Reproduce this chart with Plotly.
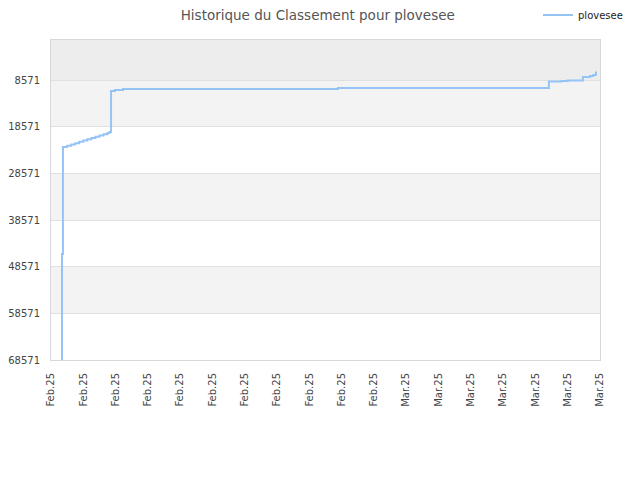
import plotly.graph_objects as go

# --- Data ---
dates = [
    "2025-02-08 15:36", "2025-02-08 16:20", "2025-02-08 17:45",
    "2025-02-09 00:00", "2025-02-09 06:00", "2025-02-09 12:00",
    "2025-02-09 18:00", "2025-02-10 00:00", "2025-02-10 06:00",
    "2025-02-10 12:00", "2025-02-10 18:00", "2025-02-11 00:00",
    "2025-02-11 06:00", "2025-02-11 12:00", "2025-02-11 15:00",
    "2025-02-11 17:15", "2025-02-11 23:00", "2025-02-12 11:00",
    "2025-02-25 18:30", "2025-03-10 20:00", "2025-03-11 15:00",
    "2025-03-12 00:00", "2025-03-12 22:30", "2025-03-13 09:00",
    "2025-03-13 14:00", "2025-03-13 18:00",
]
ranks = [
    68571, 45860, 22930,
    22650, 22380, 22100,
    21830, 21560, 21290,
    21020, 20750, 20480,
    20210, 19940, 19700,
    10930, 10710, 10500,
    10290, 8890, 8785,
    8680, 7930, 7710,
    7500, 6750,
]

y_ticks = [8571, 18571, 28571, 38571, 48571, 58571, 68571]
y_labels = [str(v) for v in y_ticks]
x_ticks = ["2025-02-08", "2025-02-10", "2025-02-12", "2025-02-14", "2025-02-16",
           "2025-02-18", "2025-02-20", "2025-02-22", "2025-02-24", "2025-02-26",
           "2025-02-28", "2025-03-02", "2025-03-04", "2025-03-06", "2025-03-08",
           "2025-03-10", "2025-03-12", "2025-03-14"]
x_labels = ["Feb.25"] * 11 + ["Mar.25"] * 7

fig = go.Figure()
fig.add_trace(go.Scatter(
    x=dates, y=ranks, mode="lines", name="plovesee",
    line=dict(color="#94c4f5", width=2, shape="hv"),
))

# alternating background bands
bands = [(0, 8571, "#ededed"), (8571, 18571, "#f3f3f3"),
         (28571, 38571, "#f3f3f3"), (48571, 58571, "#f3f3f3")]
for y0, y1, col in bands:
    fig.add_shape(type="rect", xref="paper", yref="y", x0=0, x1=1, y0=y0, y1=y1,
                  fillcolor=col, line_width=0, layer="below")

# page body has an 8px margin, so margins are shifted to land the plot box
fig.update_layout(
    width=640, height=480,
    margin=dict(l=43, r=48, t=32, b=128, autoexpand=False),
    paper_bgcolor="white", plot_bgcolor="white",
    font=dict(family="DejaVu Sans", size=10, color="#444"),
    title=dict(text="Historique du Classement pour plovesee", x=0.484, y=0.985,
               xanchor="center", yanchor="middle",
               font=dict(size=13.5, color="#555")),
    showlegend=True,
    legend=dict(x=1.051, y=1.078, xanchor="right", yanchor="middle",
                orientation="h", font=dict(size=10, color="#222"),
                itemwidth=30, bgcolor="rgba(0,0,0,0)"),
)
fig.update_xaxes(
    range=["2025-02-08", "2025-03-14"], tickvals=x_ticks, ticktext=x_labels,
    tickangle=-90, showgrid=False, showline=True, linecolor="#d8d8d8",
    mirror=True, ticks="", automargin=False, ticklabelstandoff=8,
    tickfont=dict(size=10, color="#444"),
)
fig.update_yaxes(
    range=[68571, 0], tickvals=y_ticks, ticktext=y_labels, showgrid=True,
    gridcolor="#e0e0e0", showline=True, linecolor="#d8d8d8", mirror=True,
    ticks="", zeroline=False, automargin=False, ticklabelstandoff=8,
    tickfont=dict(size=10, color="#444"),
)

fig.write_html("out.html")
